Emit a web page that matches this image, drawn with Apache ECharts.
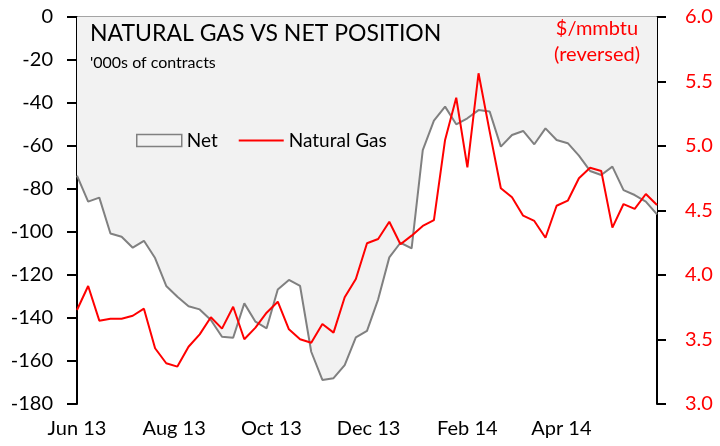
<!DOCTYPE html>
<html>
<head>
<meta charset="utf-8">
<script src="https://cdn.jsdelivr.net/npm/echarts@6/dist/echarts.min.js"></script>
<style>
html,body{margin:0;padding:0;background:#fff;}
#chart{width:720px;height:446px;}
</style>
</head>
<body>
<div id="chart"></div>
<script>
// ---- data ----
const dates = [
  '2013-06-04','2013-06-11','2013-06-18','2013-06-25','2013-07-02','2013-07-09','2013-07-16','2013-07-23','2013-07-30',
  '2013-08-06','2013-08-13','2013-08-20','2013-08-27','2013-09-03','2013-09-10','2013-09-17','2013-09-24',
  '2013-10-01','2013-10-08','2013-10-15','2013-10-22','2013-10-29','2013-11-05','2013-11-12','2013-11-19','2013-11-26',
  '2013-12-03','2013-12-10','2013-12-17','2013-12-24','2013-12-31','2014-01-07','2014-01-14','2014-01-21','2014-01-28',
  '2014-02-04','2014-02-11','2014-02-18','2014-02-25','2014-03-04','2014-03-11','2014-03-18','2014-03-25',
  '2014-04-01','2014-04-08','2014-04-15','2014-04-22','2014-04-29','2014-05-06','2014-05-13','2014-05-20','2014-05-27','2014-06-03'
];
const netPosition = [
  -73.8,-85.9,-84.0,-100.7,-102.2,-107.3,-104.1,-112.1,-125.1,-130.1,
  -134.5,-136.0,-140.9,-148.7,-149.2,-133.2,-141.7,-144.8,-126.7,-122.3,
  -125.1,-155.7,-168.8,-168.0,-161.9,-149.0,-146.0,-131.3,-111.8,-105.0,
  -107.6,-61.9,-48.2,-41.7,-49.9,-47.1,-43.3,-44.0,-60.3,-54.9,
  -53.0,-59.2,-51.8,-57.2,-58.7,-64.5,-71.6,-73.5,-69.6,-80.5,
  -82.8,-85.9,-91.8
];
const gasPrice = [
  3.729,3.915,3.646,3.661,3.661,3.684,3.739,3.432,3.316,3.290,
  3.444,3.540,3.672,3.584,3.754,3.502,3.592,3.708,3.793,3.579,
  3.502,3.475,3.620,3.553,3.827,3.969,4.246,4.279,4.413,4.238,
  4.305,4.380,4.426,5.047,5.374,4.835,5.564,5.111,4.672,4.602,
  4.460,4.419,4.289,4.537,4.576,4.750,4.832,4.806,4.367,4.550,
  4.512,4.628,4.543
];
const tickDates = ['2013-06-04','2013-08-04','2013-10-04','2013-12-04','2014-02-04','2014-04-04'];
const tickLabels = ['Jun 13','Aug 13','Oct 13','Dec 13','Feb 14','Apr 14'];
const seriesNames = ['Net','Natural Gas'];

// ---- build ----
// days since epoch (value axis keyed by calendar day)
function toDay(s){ const p = s.split('-'); return Date.UTC(+p[0], +p[1]-1, +p[2]) / 86400000; }
const days = dates.map(toDay);
const tickDays = tickDates.map(toDay);
const FONT = 'Lato';

const chart = echarts.init(document.getElementById('chart'), null, {renderer:'canvas'});
chart.setOption({
  animation: false,
  backgroundColor: '#ffffff',
  textStyle: {fontFamily: FONT},
  grid: {left: 77, right: 63, top: 17, bottom: 42, outerBoundsMode: 'none', containLabel: false},
  graphic: [
    {type:'text', left: 90, top: 22, z: 10, style:{text:'NATURAL GAS VS NET POSITION', font:'23px Lato', fill:'#000'}},
    {type:'text', left: 90, top: 55, z: 10, style:{text:"'000s of contracts", font:'16px Lato', fill:'#000'}},
    {type:'text', x: 597, y: 29, z: 10, style:{text:'$/mmbtu', font:'20px Lato', fill:'#ff0000', align:'center', verticalAlign:'middle'}},
    {type:'text', x: 597, y: 55, z: 10, style:{text:'(reversed)', font:'20px Lato', fill:'#ff0000', align:'center', verticalAlign:'middle'}}
  ],
  legend: {
    left: 136, top: 131, padding: 0, itemWidth: 45, itemHeight: 12, itemGap: 21,
    textStyle: {fontFamily: FONT, fontSize: 19, color: '#000'},
    data: [
      {name: seriesNames[0], icon: 'rect', itemStyle: {color: '#f2f2f2', borderColor: '#808080', borderWidth: 1.5}},
      {name: seriesNames[1], icon: 'path://M0,0L45,0L45,2L0,2Z', itemStyle: {color: '#ff0000', borderWidth: 0}}
    ]
  },
  xAxis: [
    {
      type: 'value', min: days[0], max: days[days.length-1], position: 'bottom',
      axisLine: {show: false}, axisTick: {show: false}, splitLine: {show: false},
      axisLabel: {
        customValues: tickDays,
        formatter: function(v){ const i = tickDays.indexOf(v); return i >= 0 ? tickLabels[i] : ''; },
        fontFamily: FONT, fontSize: 20, color: '#000', margin: 15, hideOverlap: false,
        showMinLabel: true, showMaxLabel: true
      }
    },
    {
      type: 'value', min: days[0], max: days[days.length-1], position: 'top',
      axisLine: {show: true, onZero: false, lineStyle: {color: '#868686', width: 1.5}},
      axisTick: {show: false}, axisLabel: {show: false}, splitLine: {show: false}
    }
  ],
  yAxis: [
    {
      type: 'value', min: -180, max: 0, interval: 20, position: 'left',
      axisLine: {show: true, lineStyle: {color: '#000', width: 2}},
      axisTick: {show: true, inside: false, length: 10, lineStyle: {color: '#000', width: 2}},
      splitLine: {show: false},
      axisLabel: {fontFamily: FONT, fontSize: 20, color: '#000', margin: 24}
    },
    {
      type: 'value', min: 3, max: 6, interval: 0.5, position: 'right',
      axisLine: {show: true, lineStyle: {color: '#000', width: 2}},
      axisTick: {show: true, inside: false, length: 9, lineStyle: {color: '#000', width: 2}},
      splitLine: {show: false},
      axisLabel: {fontFamily: FONT, fontSize: 20, color: '#ff0000', margin: 28, formatter: function(v){ return v.toFixed(1); }}
    }
  ],
  series: [
    {
      name: seriesNames[0], type: 'line', xAxisIndex: 0, yAxisIndex: 0,
      data: days.map((d,i) => [d, netPosition[i]]),
      symbol: 'none', lineStyle: {color: '#808080', width: 2},
      itemStyle: {color: '#808080'},
      areaStyle: {color: '#f2f2f2', opacity: 1},
      z: 2
    },
    {
      name: seriesNames[1], type: 'line', xAxisIndex: 0, yAxisIndex: 1,
      data: days.map((d,i) => [d, gasPrice[i]]),
      symbol: 'none', lineStyle: {color: '#ff0000', width: 2},
      itemStyle: {color: '#ff0000'},
      z: 3
    }
  ]
});
</script>
</body>
</html>
